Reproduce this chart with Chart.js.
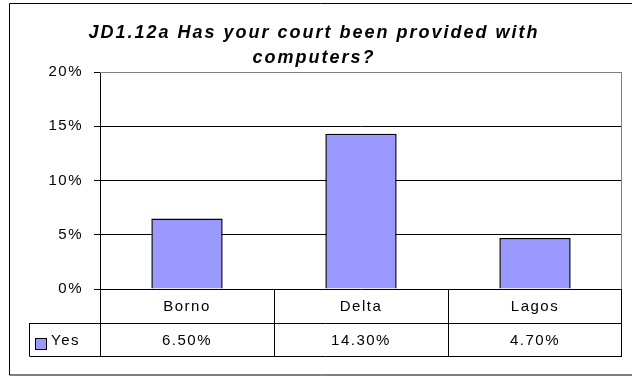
<!DOCTYPE html>
<html>
<head>
<meta charset="utf-8">
<script src="https://cdn.jsdelivr.net/npm/chart.js@4.4.1/dist/chart.umd.min.js"></script>
<style>
  html, body { margin: 0; padding: 0; background: #fff; }
  #wrap { width: 632px; height: 377px; }
</style>
</head>
<body>
<div id="wrap"><canvas id="grafico" width="632" height="377"></canvas></div>
<script>
// dados
const titulo = ['JD1.12a Has your court been provided with', 'computers?'];
const estados = ['Borno', 'Delta', 'Lagos'];
const serieNome = 'Yes';
const valores = [6.5, 14.3, 4.7];
const escala = [0, 5, 10, 15, 20];

const FONTE = '"Liberation Sans", Arial, sans-serif';
const ESPACO = '1.5px';

// moldura, título e tabela de dados
const tabelaPlugin = {
    id: 'tabelaDados',
    beforeLayout(chart) {
        chart.ctx.letterSpacing = ESPACO;
    },
    beforeDraw(chart) {
        const ctx = chart.ctx;
        ctx.letterSpacing = ESPACO;
        ctx.save();
        ctx.fillStyle = '#fff';
        ctx.fillRect(0, 0, chart.width, chart.height);
        ctx.strokeStyle = '#000';
        ctx.lineWidth = 1;
        ctx.beginPath();
        ctx.moveTo(chart.width, 3.5);
        ctx.lineTo(9.5, 3.5);
        ctx.lineTo(9.5, 375);
        ctx.lineTo(chart.width, 375);
        ctx.stroke();
        ctx.restore();
    },
    afterDraw(chart) {
        const ctx = chart.ctx;
        const area = chart.chartArea;
        const x = chart.scales.x;
        const meio = (area.right - area.left) / estados.length;
        const linha1 = area.bottom;
        const linha2 = area.bottom + 34;
        const linha3 = area.bottom + 67;
        const legX = 29;

        ctx.save();
        // borda da área do gráfico (cinza em cima e à direita)
        ctx.strokeStyle = '#808080';
        ctx.lineWidth = 1;
        ctx.beginPath();
        ctx.moveTo(area.left, area.top + 0.5);
        ctx.lineTo(area.right - 0.5, area.top + 0.5);
        ctx.lineTo(area.right - 0.5, area.bottom);
        ctx.stroke();

        // título
        ctx.fillStyle = '#000';
        ctx.font = 'italic bold 18px ' + FONTE;
        ctx.letterSpacing = '2px';
        ctx.textAlign = 'center';
        ctx.textBaseline = 'middle';
        ctx.fillText(titulo[0], 314, 33);
        ctx.fillText(titulo[1], 314, 58);

        // grade da tabela
        ctx.strokeStyle = '#000';
        ctx.beginPath();
        ctx.moveTo(area.left + 0.5, linha1);
        ctx.lineTo(area.left + 0.5, linha3);
        ctx.moveTo(area.right - 0.5, linha1);
        ctx.lineTo(area.right - 0.5, linha3);
        ctx.moveTo(legX + 0.5, linha2 + 0.5);
        ctx.lineTo(area.right, linha2 + 0.5);
        ctx.moveTo(legX + 0.5, linha3 + 0.5);
        ctx.lineTo(area.right, linha3 + 0.5);
        ctx.moveTo(legX + 0.5, linha2);
        ctx.lineTo(legX + 0.5, linha3);
        for (let i = 1; i < estados.length; i++) {
            const bx = Math.round(x.getPixelForValue(i) - meio / 2) + 0.5;
            ctx.moveTo(bx, linha1);
            ctx.lineTo(bx, linha3);
        }
        ctx.stroke();

        // textos da tabela
        ctx.font = '15px ' + FONTE;
        ctx.letterSpacing = ESPACO;
        ctx.textAlign = 'center';
        estados.forEach((nome, i) => {
            const cx = x.getPixelForValue(i);
            ctx.fillText(nome, cx, (linha1 + linha2) / 2 + 1);
            ctx.fillText(valores[i].toFixed(2) + '%', cx, (linha2 + linha3) / 2 + 1);
        });

        // legenda
        ctx.fillStyle = '#9999FF';
        ctx.fillRect(36, 339, 10, 10);
        ctx.strokeRect(35.5, 338.5, 11, 11);
        ctx.fillStyle = '#000';
        ctx.textAlign = 'left';
        ctx.fillText(serieNome, 51, (linha2 + linha3) / 2 + 1);
        ctx.restore();
    }
};

const ctxGrafico = document.getElementById('grafico').getContext('2d');
new Chart(ctxGrafico, {
    type: 'bar',
    data: {
        labels: estados,
        datasets: [{
            label: serieNome,
            data: valores,
            backgroundColor: '#9999FF',
            borderColor: '#000',
            borderWidth: 1.5,
            barPercentage: 0.41,
            categoryPercentage: 1
        }]
    },
    options: {
        responsive: false,
        animation: false,
        devicePixelRatio: 1,
        layout: {
            padding: { left: 0, right: 10, top: 72, bottom: 88 }
        },
        plugins: {
            legend: { display: false },
            title: { display: false },
            tooltip: { enabled: false }
        },
        scales: {
            x: {
                display: false
            },
            y: {
                min: escala[0],
                max: escala[escala.length - 1],
                afterFit(s) { s.width = 100; },
                afterBuildTicks(s) { s.ticks = escala.map(v => ({ value: v })); },
                border: { color: '#000', width: 1 },
                grid: {
                    color: ctx => ctx.tick && ctx.tick.value === 20 ? '#808080' : '#000',
                    tickColor: '#000',
                    tickLength: 6
                },
                ticks: {
                    padding: 11,
                    color: '#000',
                    font: { family: FONTE, size: 15 },
                    callback: v => v + '%'
                }
            }
        }
    },
    plugins: [tabelaPlugin]
});
</script>
</body>
</html>
